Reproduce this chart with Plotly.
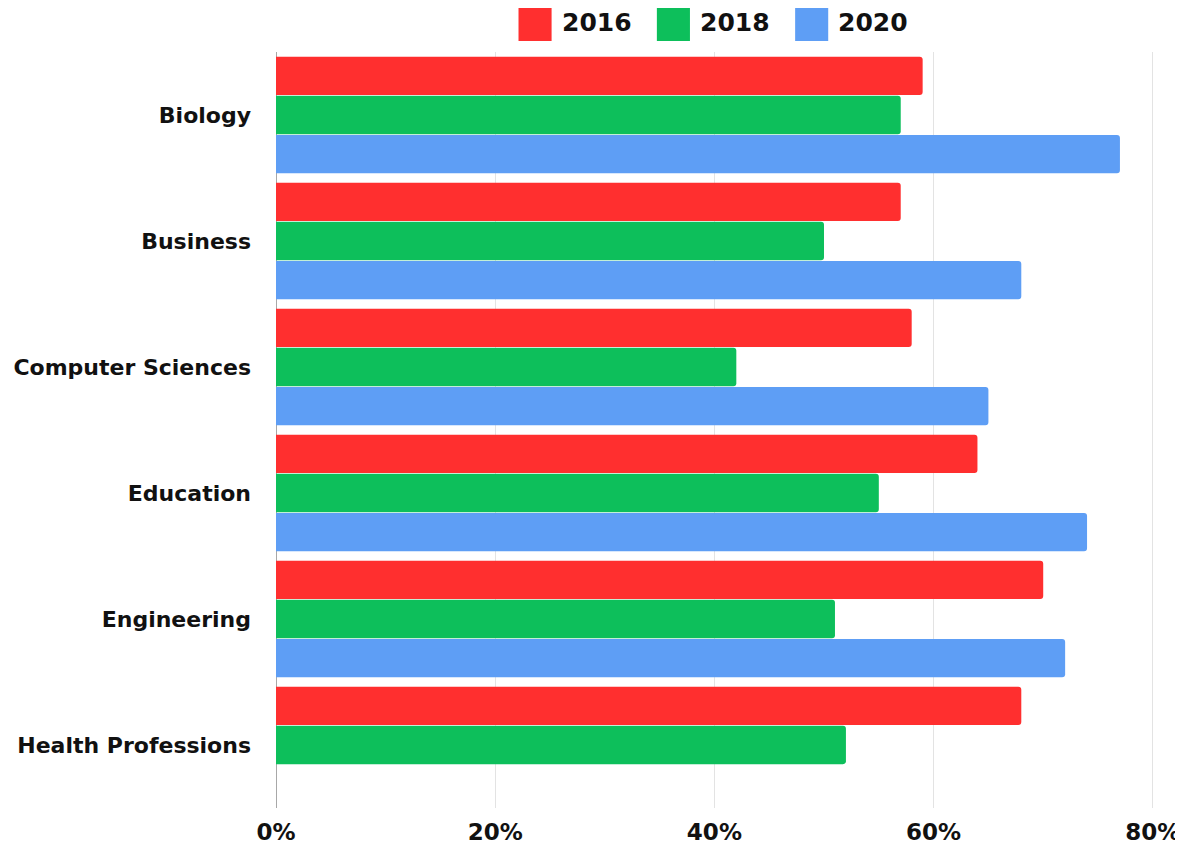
import plotly.graph_objects as go

categories = [
    "Biology",
    "Business",
    "Computer Sciences",
    "Education",
    "Engineering",
    "Health Professions",
]

years = ["2016", "2018", "2020"]

values_2016 = [0.59, 0.57, 0.58, 0.64, 0.70, 0.68]
values_2018 = [0.57, 0.50, 0.42, 0.55, 0.51, 0.52]
values_2020 = [0.77, 0.68, 0.65, 0.74, 0.72, None]

colors = ["#ff2f2f", "#0dbf5b", "#5e9ef5"]

FONT = "DejaVu Sans"

fig = go.Figure()

for year, vals, color in zip(years, [values_2016, values_2018, values_2020], colors):
    fig.add_trace(
        go.Bar(
            y=categories,
            x=vals,
            name=year,
            orientation="h",
            marker=dict(color=color, cornerradius=3, line=dict(width=0)),
            showlegend=False,
        )
    )

# Legend drawn by hand (big squares)
plot_w = 877
plot_h = 756
legend_x = [0.2759, 0.4333, 0.5906]
for i, (year, color) in enumerate(zip(years, colors)):
    x0 = legend_x[i]
    fig.add_shape(
        type="rect",
        xref="paper",
        yref="paper",
        x0=x0,
        x1=x0 + 33 / plot_w,
        y0=1 + 11 / plot_h,
        y1=1 + 45 / plot_h,
        fillcolor=color,
        line=dict(width=0),
    )
    fig.add_annotation(
        x=x0 + 41 / plot_w,
        y=1 + 29 / plot_h,
        xref="paper",
        yref="paper",
        text=year,
        showarrow=False,
        xanchor="left",
        yanchor="middle",
        font=dict(family=FONT, size=25, color="#111111", weight="bold"),
    )

fig.update_layout(
    width=1175,
    height=843,
    paper_bgcolor="white",
    plot_bgcolor="white",
    barmode="group",
    bargap=0.07,
    bargroupgap=0.02,
    margin=dict(l=268, r=28, t=44, b=43, autoexpand=False),
    xaxis=dict(
        range=[0, 0.802],
        tickvals=[0, 0.2, 0.4, 0.6, 0.8],
        tickformat=".0%",
        automargin=False,
        ticklabeloverflow="allow",
        showgrid=True,
        gridcolor="#e3e3e3",
        gridwidth=1,
        zeroline=True,
        zerolinecolor="#a8a8a8",
        zerolinewidth=1,
        ticks="",
        ticklabelstandoff=8,
        tickfont=dict(family=FONT, size=23, color="#111111", weight="bold"),
    ),
    yaxis=dict(
        autorange="reversed",
        automargin=False,
        showgrid=False,
        ticks="",
        ticklabelstandoff=24,
        tickfont=dict(family=FONT, size=22, color="#111111", weight="bold"),
    ),
)

fig.write_html("out.html")
